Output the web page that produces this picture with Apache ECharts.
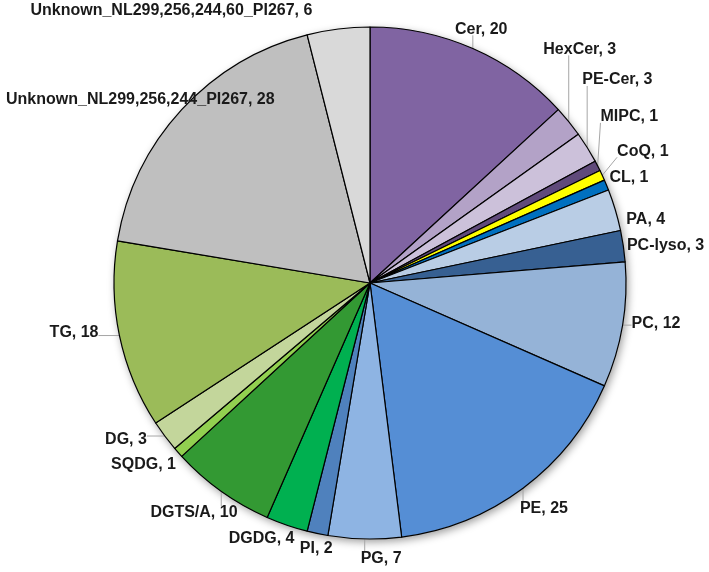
<!DOCTYPE html>
<html>
<head>
<meta charset="utf-8">
<script src="https://cdn.jsdelivr.net/npm/echarts@6/dist/echarts.min.js"></script>
<style>
html,body{margin:0;padding:0;background:#fff;}
#chart{width:709px;height:572px;}
</style>
</head>
<body>
<div id="chart"></div>
<script>
// ---- data ----
const categories = ['Cer', 'HexCer', 'PE-Cer', 'MIPC', 'CoQ', 'CL', 'PA', 'PC-lyso', 'PC', 'PE', 'PG', 'PI', 'DGDG', 'DGTS/A', 'SQDG', 'DG', 'TG', 'Unknown_NL299,256,244_PI267', 'Unknown_NL299,256,244,60_PI267'];
const values = [20, 3, 3, 1, 1, 1, 4, 3, 12, 25, 7, 2, 4, 10, 1, 3, 18, 28, 6];

// ---- styles ----
const colors = ['#8064A2', '#B3A2C7', '#CCC1DA', '#604A7B', '#FFFF00', '#0070C0', '#B9CDE5', '#376092', '#95B3D7', '#558ED5', '#8EB4E3', '#4F81BD', '#00B050', '#339933', '#92D050', '#C3D69B', '#9BBB59', '#BFBFBF', '#D9D9D9'];
// label placement: [extra radial distance beyond pie edge (px), angular nudge (deg)]
const labelGap = [21, 58, 64, 52, 47, 23.5, 27, 42, 33, 29, 20, 15, 22, 33, 34, 34, 44, 38, 81];
const labelTurn = [0, -9, -7.4, -5.4, -0.9, 0.4, 3.6, 1, -1.3, -0.9, -3.5, -0.4, 4, 2, 2.8, 4, 2.4, -4, -29];
const showLeader = [true, true, true, true, true, false, false, false, true, true, true, false, false, true, false, true, true, false, false];

const CX = 370, CY = 283, R = 256;
const total = values.reduce((a, b) => a + b, 0);
const midAngles = [];
let acc = 0;
values.forEach(v => { midAngles.push((acc + v / 2) / total * 360); acc += v; });

const chart = echarts.init(document.getElementById('chart'), null, {renderer: 'canvas'});
const data = categories.map((c, i) => ({
  name: c,
  value: values[i],
  itemStyle: {color: colors[i]},
  labelLine: {show: showLeader[i]}
}));

chart.setOption({
  animation: false,
  backgroundColor: '#ffffff',
  series: [
    {
      type: 'pie',
      silent: true,
      z: 1,
      center: [CX, CY],
      radius: R,
      data: [{value: total}],
      label: {show: false},
      labelLine: {show: false},
      itemStyle: {color: '#ffffff', shadowBlur: 8, shadowColor: 'rgba(0,0,0,0.4)', shadowOffsetX: 2, shadowOffsetY: 3}
    },
    {
      type: 'pie',
      z: 2,
      center: [CX, CY],
      radius: R,
      startAngle: 90,
      clockwise: true,
      avoidLabelOverlap: false,
      emphasis: {scale: false},
      data: data,
      itemStyle: {borderColor: '#000000', borderWidth: 1.2},
      label: {
        show: true,
        position: 'outside',
        formatter: p => p.name + ', ' + p.value,
        fontFamily: '"Liberation Sans", Arial, sans-serif',
        fontWeight: 'bold',
        fontSize: 16,
        color: '#1a1a1a'
      },
      labelLine: {
        show: true,
        length: 4,
        length2: 0,
        lineStyle: {color: '#a6a6a6', width: 1}
      },
      labelLayout: function (params) {
        const i = params.dataIndex;
        const a = (midAngles[i] + labelTurn[i]) * Math.PI / 180;
        const r = R + labelGap[i];
        const lx = CX + r * Math.sin(a);
        const ly = CY - r * Math.cos(a);
        const m = midAngles[i] * Math.PI / 180;
        const ax = CX + R * Math.sin(m);
        const ay = CY - R * Math.cos(m);
        const w = params.labelRect.width, h = params.labelRect.height;
        const px = Math.min(Math.max(ax, lx - w / 2), lx + w / 2);
        const py = Math.min(Math.max(ay, ly - h / 2 + 2), ly + h / 2 - 2);
        return {
          x: lx,
          y: ly,
          align: 'center',
          verticalAlign: 'middle',
          labelLinePoints: [[ax, ay], [px, py], [px, py]]
        };
      }
    }
  ]
});
</script>
</body>
</html>
